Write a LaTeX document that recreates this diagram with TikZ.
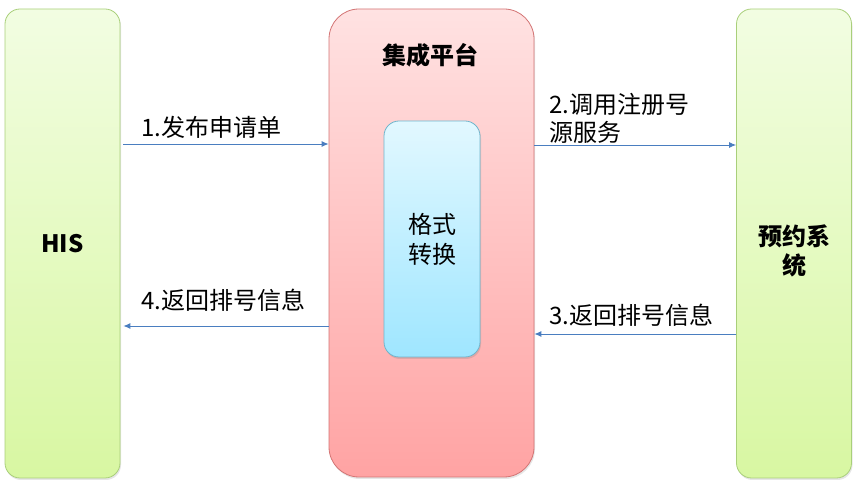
\documentclass[tikz,border=0pt]{standalone}
\usepackage{fontspec}
\setmainfont{Noto Sans CJK SC}
\usetikzlibrary{arrows.meta,shadows}
\definecolor{gtop}{HTML}{F2FDE2}
\definecolor{gbot}{HTML}{D8F7A2}
\definecolor{gbord}{HTML}{A9CF7A}
\definecolor{rtop}{HTML}{FFE2E2}
\definecolor{rbot}{HTML}{FFA3A3}
\definecolor{rbord}{HTML}{D37474}
\definecolor{btop}{HTML}{E2F8FF}
\definecolor{bbot}{HTML}{9FE6FF}
\definecolor{bbord}{HTML}{6FB5CC}
\definecolor{arrc}{HTML}{4A7EC0}
\tikzset{
  sysbox/.style={draw=gbord, line width=0.8pt, rounded corners=15pt, top color=gtop, bottom color=gbot,
    minimum width=115pt, minimum height=469pt, inner sep=0pt, align=center,
    font=\fontsize{24}{29}\selectfont\bfseries,
    drop shadow={opacity=0.2, shadow xshift=1pt, shadow yshift=-2pt}},
  platbox/.style={draw=rbord, line width=0.8pt, rounded corners=30pt, top color=rtop, bottom color=rbot,
    minimum width=205pt, minimum height=468pt, inner sep=0pt,
    drop shadow={opacity=0.2, shadow xshift=1pt, shadow yshift=-2pt}},
  convbox/.style={draw=bbord, line width=0.8pt, rounded corners=15pt, top color=btop, bottom color=bbot,
    minimum width=96pt, minimum height=236pt, inner sep=0pt, align=center,
    font=\fontsize{24}{30}\selectfont,
    drop shadow={opacity=0.25, shadow xshift=1pt, shadow yshift=-2pt}},
  arr/.style={draw=arrc, line width=0.9pt, -{Latex[length=7pt,width=6pt]}},
  lbl/.style={font=\fontsize{24}{28}\selectfont, inner sep=0pt, align=left, anchor=west},
  ttl/.style={font=\fontsize{24}{29}\selectfont\bfseries, inner sep=0pt}
}
\begin{document}
\begin{tikzpicture}[x=1pt,y=1pt]
\useasboundingbox (0,0) rectangle (868,489);
\node[sysbox] (his) at (62.5,245.5) {HIS};
\node[platbox] (mid) at (431.5,246) {};
\node[ttl] (midt) at (430,434) {集成平台};
\node[convbox] (conv) at (432,250) {格式\\转换};
\node[sysbox, label={[ttl, align=center, yshift=-7pt]center:{预约系\\统}}] (yy) at (794,245.5) {};

\draw[arr] ([xshift=3pt,yshift=99.5pt]his.east) -- ([yshift=99pt]mid.west);
\draw[arr] ([yshift=98pt]mid.east) -- ([yshift=98.5pt]yy.west);
\draw[arr] ([yshift=-90.5pt]yy.west) -- ([yshift=-91pt]mid.east);
\draw[arr] ([yshift=-83pt]mid.west) -- ([xshift=3pt,yshift=-82.5pt]his.east);

\node[lbl] (l1) at (141,362) {1.发布申请单};
\node[lbl] (l2) at (549,371) {2.调用注册号\\源服务};
\node[lbl] (l3) at (549,174) {3.返回排号信息};
\node[lbl] (l4) at (141,189) {4.返回排号信息};
\end{tikzpicture}
\end{document}
